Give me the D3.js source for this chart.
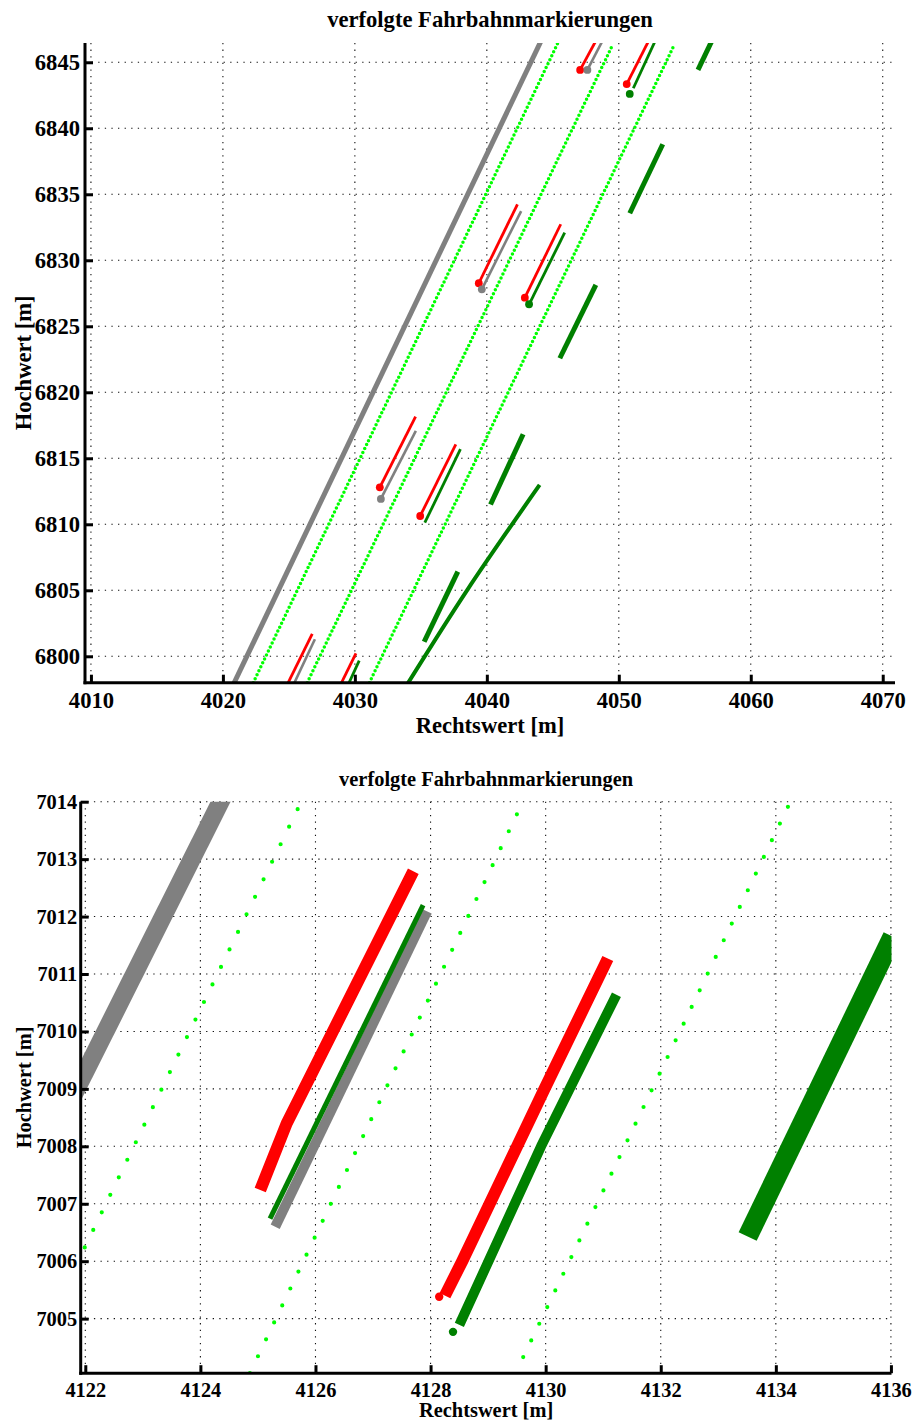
<!DOCTYPE html>
<html><head><meta charset="utf-8">
<script src="https://cdn.jsdelivr.net/npm/d3@7"></script>
<style>
body{margin:0;background:#fff}
svg{display:block}
text{font-family:"Liberation Serif","Times New Roman",serif;font-weight:bold;fill:#000}
</style>
</head><body>
<svg id="c" width="914" height="1421"></svg>
<script>
// ---------------- DATA: top panel ----------------
const topTitle = "verfolgte Fahrbahnmarkierungen";
const topXLabel = "Rechtswert [m]";
const topYLabel = "Hochwert [m]";
const topXDomain = [4009.55, 4070.93];
const topYDomain = [6798, 6846.46];
const topXTicks = [4010, 4020, 4030, 4040, 4050, 4060, 4070];
const topYTicks = [6800, 6805, 6810, 6815, 6820, 6825, 6830, 6835, 6840, 6845];

const topGrayWide = [[[4020.38, 6797], [4044.53, 6847.5]]];
const topLime = [
  [[4022.30, 6798], [4045.35, 6846.4]],
  [[4026.39, 6798], [4049.57, 6846.4]],
  [[4031.10, 6798], [4054.24, 6846.4]]
];
const topGreenThick = [
  [[4035.25, 6801.10], [4037.80, 6806.41]],
  [[4040.28, 6811.50], [4042.75, 6816.82]],
  [[4045.53, 6822.58], [4048.26, 6828.13]],
  [[4050.83, 6833.56], [4053.33, 6838.79]],
  [[4056.00, 6844.42], [4057.04, 6846.6]]
];
const topGreenCurve = [[4033.42, 6797], [4038.50, 6805], [4044.00, 6812.98]];
const topRed = [
  [[4024.45, 6797], [4026.77, 6801.69]],
  [[4028.50, 6797], [4030.08, 6800.23]],
  [[4031.89, 6812.80], [4034.60, 6818.15]],
  [[4034.95, 6810.63], [4037.65, 6816.06]],
  [[4039.39, 6828.26], [4042.32, 6834.24]],
  [[4042.88, 6827.17], [4045.60, 6832.73]],
  [[4047.07, 6844.42], [4048.25, 6846.6]],
  [[4050.60, 6843.35], [4052.25, 6846.6]]
];
const topRedDots = [[4031.89, 6812.80], [4034.95, 6810.63], [4039.39, 6828.26], [4042.88, 6827.17], [4047.07, 6844.42], [4050.60, 6843.35]];
const topGray = [
  [[4024.95, 6797], [4026.97, 6801.29]],
  [[4031.97, 6811.92], [4034.62, 6817.07]],
  [[4039.62, 6827.80], [4042.60, 6833.73]],
  [[4047.62, 6844.42], [4048.75, 6846.6]]
];
const topGrayDots = [[4031.97, 6811.92], [4039.62, 6827.80], [4047.62, 6844.42]];
const topGreen = [
  [[4029.10, 6797], [4030.33, 6799.67]],
  [[4035.30, 6810.12], [4038.00, 6815.70]],
  [[4043.30, 6826.85], [4045.90, 6832.10]],
  [[4051.10, 6843.03], [4052.75, 6846.6]]
];
const topGreenDots = [[4043.20, 6826.67], [4050.83, 6842.60]];

// ---------------- DATA: bottom panel ----------------
const botTitle = "verfolgte Fahrbahnmarkierungen";
const botXLabel = "Rechtswert [m]";
const botYLabel = "Hochwert [m]";
const botXDomain = [4121.92, 4136.01];
const botYDomain = [7004.05, 7014.0];
const botXTicks = [4122, 4124, 4126, 4128, 4130, 4132, 4134, 4136];
const botYTicks = [7005, 7006, 7007, 7008, 7009, 7010, 7011, 7012, 7013, 7014];

const botGrayWide = [[[4121.15, 7007.6], [4124.45, 7014.2]]];
const botLime = [
  [[4121.99, 7006.24], [4125.69, 7013.87]],
  [[4124.86, 7004.05], [4129.50, 7013.78]],
  [[4129.61, 7004.33], [4134.21, 7013.91]]
];
const botLimeCounts = [25, 33, 33];
const botGrayMid = [[[4125.30, 7006.60], [4127.94, 7012.09]]];
const botGreenThin = [[[4125.21, 7006.74], [4127.87, 7012.20]]];
const botRed = [
  [[4125.04, 7007.24], [4125.50, 7008.40], [4127.70, 7012.79]],
  [[4128.25, 7005.40], [4128.55, 7006.00], [4129.98, 7009.00], [4131.08, 7011.27]]
];
const botRedDots = [[4128.15, 7005.38]];
const botGreen = [
  [[4128.50, 7004.89], [4129.92, 7008.00], [4131.23, 7010.64]]
];
const botGreenDots = [[4128.39, 7004.77]];
const botGreenWide = [[[4133.51, 7006.43], [4136.03, 7011.65]]];

// ---------------- DRAWING ----------------
const COL = {red: "#ff0000", gray: "#808080", green: "#008000", lime: "#00ff00"};
const svg = d3.select("#c");

function panel(o) {
  const x = d3.scaleLinear().domain(o.xDomain).range([o.left, o.right]);
  const y = d3.scaleLinear().domain(o.yDomain).range([o.bottom, o.top]);
  const g = svg.append("g");
  const cid = "clip" + o.id;
  g.append("clipPath").attr("id", cid).append("rect")
    .attr("x", o.left).attr("y", o.top).attr("width", o.right - o.left).attr("height", o.bottom - o.top);

  // grid
  const grid = g.append("g").attr("stroke", "#111").attr("stroke-width", 1.1).attr("stroke-dasharray", "1.3,5.3");
  o.xTicks.forEach(t => grid.append("line").attr("x1", x(t)).attr("x2", x(t)).attr("y1", o.top).attr("y2", o.bottom));
  o.yTicks.forEach(t => grid.append("line").attr("y1", y(t)).attr("y2", y(t)).attr("x1", o.left).attr("x2", o.right));

  const plot = g.append("g").attr("clip-path", `url(#${cid})`);
  const line = d3.line().x(d => x(d[0])).y(d => y(d[1]));
  const curve = d3.line().x(d => x(d[0])).y(d => y(d[1])).curve(d3.curveNatural);

  function lines(data, color, w, gen) {
    plot.append("g").selectAll("path").data(data).join("path")
      .attr("d", gen || line).attr("fill", "none").attr("stroke", color)
      .attr("stroke-width", w).attr("stroke-linecap", "butt").attr("stroke-linejoin", "round");
  }
  function dots(data, color, r) {
    plot.append("g").selectAll("circle").data(data).join("circle")
      .attr("cx", d => x(d[0])).attr("cy", d => y(d[1])).attr("r", r).attr("fill", color);
  }
  function lime(data, counts, dotW, spacingY) {
    const gl = plot.append("g");
    data.forEach((seg, i) => {
      const p = gl.append("path").attr("d", line(seg)).attr("fill", "none")
        .attr("stroke", COL.lime).attr("stroke-width", dotW).attr("stroke-linecap", "round");
      const L = p.node().getTotalLength();
      const n = counts ? counts[i] : Math.round(Math.abs(seg[1][1] - seg[0][1]) / spacingY);
      p.attr("stroke-dasharray", `0 ${L / n}`);
    });
  }
  o.draw({lines, dots, lime, curve});

  // axes
  const fmt = d3.format("d");
  const ax = g.append("g").attr("transform", `translate(0,${o.bottom})`)
    .call(d3.axisBottom(x).tickValues(o.xTicks).tickFormat(fmt).tickSize(-8).tickSizeOuter(0).tickPadding(o.xPad));
  const ay = g.append("g").attr("transform", `translate(${o.left},0)`)
    .call(d3.axisLeft(y).tickValues(o.yTicks).tickFormat(fmt).tickSize(-8).tickSizeOuter(0).tickPadding(o.yPad));
  [ax, ay].forEach(a => {
    a.attr("font-family", null).attr("font-size", null);
    a.select(".domain").attr("stroke", "#000").attr("stroke-width", 3);
    a.selectAll(".tick line").attr("stroke", "#000").attr("stroke-width", 3);
    a.selectAll("text").style("font-size", o.fs + "px").attr("fill", "#000");
  });
  ax.select(".domain").attr("d", `M${o.left - 1.5},0H${o.right}`);
  ay.select(".domain").attr("d", `M0,${o.top}V${o.bottom + 1.5}`);

  const cx = (o.left + o.right) / 2, cy = (o.top + o.bottom) / 2;
  g.append("text").attr("x", cx).attr("y", o.titleY).attr("text-anchor", "middle").style("font-size", o.fs + "px").text(o.title);
  g.append("text").attr("x", cx).attr("y", o.xLabelY).attr("text-anchor", "middle").style("font-size", o.fs + "px").text(o.xLabel);
  g.append("text").attr("transform", `translate(${o.yLabelX},${cy}) rotate(-90)`).attr("text-anchor", "middle").style("font-size", o.fs + "px").text(o.yLabel);
}

panel({
  id: "top", left: 85, right: 895, top: 43, bottom: 682.7,
  xDomain: topXDomain, yDomain: topYDomain, xTicks: topXTicks, yTicks: topYTicks,
  fs: 22.6, xPad: 9, yPad: 5, titleY: 26.5, xLabelY: 733, yLabelX: 31,
  title: topTitle, xLabel: topXLabel, yLabel: topYLabel,
  draw: ({lines, dots, lime, curve}) => {
    lines(topGrayWide, COL.gray, 5);
    lime(topLime, null, 3.5, 0.3);
    lines(topGreenThick, COL.green, 5);
    lines([topGreenCurve], COL.green, 4, curve);
    lines(topRed, COL.red, 2.8);
    lines(topGray, COL.gray, 2.6);
    lines(topGreen, COL.green, 2.8);
    dots(topRedDots, COL.red, 3.9);
    dots(topGrayDots, COL.gray, 3.9);
    dots(topGreenDots, COL.green, 3.9);
  }
});

panel({
  id: "bot", left: 80.7, right: 891.5, top: 801.7, bottom: 1373.2,
  xDomain: botXDomain, yDomain: botYDomain, xTicks: botXTicks, yTicks: botYTicks,
  fs: 20.4, xPad: 9, yPad: 3.5, titleY: 786, xLabelY: 1417, yLabelX: 31,
  title: botTitle, xLabel: botXLabel, yLabel: botYLabel,
  draw: ({lines, dots, lime}) => {
    lines(botGrayWide, COL.gray, 18);
    lime(botLime, botLimeCounts, 4.2);
    lines(botGreenWide, COL.green, 20);
    lines(botGrayMid, COL.gray, 10);
    lines(botGreenThin, COL.green, 5);
    lines(botRed, COL.red, 12);
    lines(botGreen, COL.green, 10);
    dots(botRedDots, COL.red, 4.2);
    dots(botGreenDots, COL.green, 4.2);
  }
});
</script>
</body></html>
